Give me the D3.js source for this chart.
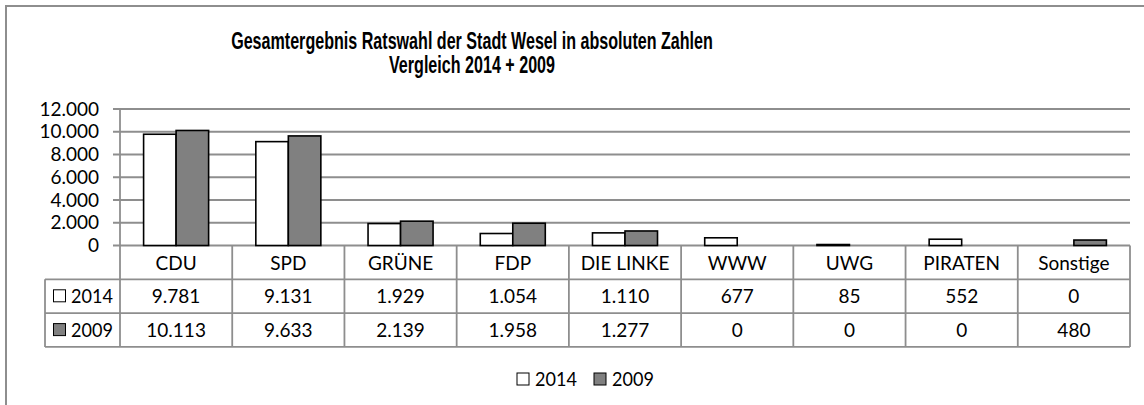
<!DOCTYPE html>
<html><head><meta charset="utf-8">
<script src="https://cdn.jsdelivr.net/npm/d3@7"></script>
<style>body{margin:0;background:#fff}svg{display:block}</style>
</head><body>
<svg id="c" width="1144" height="405"></svg>
<script>
const categories = ["CDU","SPD","GRÜNE","FDP","DIE LINKE","WWW","UWG","PIRATEN","Sonstige"];
const seriesNames = ["2014","2009"];
const values2014 = [9781,9131,1929,1054,1110,677,85,552,0];
const values2009 = [10113,9633,2139,1958,1277,0,0,0,480];
const yTicks = [0,2000,4000,6000,8000,10000,12000];
const titleLines = ["Gesamtergebnis Ratswahl der Stadt Wesel in absoluten Zahlen","Vergleich 2014 + 2009"];

const seriesValues = [values2014, values2009];
const fills = ["#ffffff","#808080"];
const fmt = d3.formatLocale({decimal:",",thousands:".",grouping:[3],currency:["","€"]}).format(",d");

const svg = d3.select("#c");
const gridCol = "#8e8e8e";
const plotL = 120, plotR = 1130, plotT = 109, plotB = 245.5;
const tableL = 45, rowH = 33.8;

// frame
svg.append("rect").attr("x",6).attr("y",6).attr("width",1160).attr("height",420)
  .attr("fill","#fff").attr("stroke",gridCol).attr("stroke-width",2);

const x0 = d3.scaleBand().domain(categories).range([plotL, plotR]);
const x1 = d3.scaleBand().domain(seriesNames).range([0, x0.bandwidth()]).paddingOuter(0.726);
const y = d3.scaleLinear().domain([0,12000]).range([plotB, plotT]);

function txt(g, x, yy, s, o) {
  o = o || {};
  return g.append("text")
    .attr("transform", `translate(${x},${yy}) scale(${o.sx||1.0},1)`)
    .attr("text-anchor", o.anchor || "middle")
    .attr("font-family", o.family || "Lato, 'Open Sans', sans-serif")
    .attr("font-size", o.size || 19)
    .attr("font-weight", o.weight || "normal")
    .attr("fill", "#000")
    .text(s);
}

// title
titleLines.forEach((t,i) => txt(svg, 472, 49 + i*23.5, t, {family:"'Liberation Sans', Arial, sans-serif", weight:"bold", size:23, sx:0.70}));

// gridlines + y labels
const gy = svg.append("g");
yTicks.forEach(v => {
  gy.append("line").attr("x1", plotL-7).attr("x2", plotR).attr("y1", y(v)).attr("y2", y(v))
    .attr("stroke", gridCol).attr("stroke-width", 1.8);
  txt(gy, 99, y(v)+6.5, fmt(v), {anchor:"end"});
});

// axis line + table verticals
const tableB = plotB + rowH*3;
svg.append("line").attr("x1",plotL).attr("x2",plotL).attr("y1",plotT).attr("y2",tableB).attr("stroke",gridCol).attr("stroke-width",1.8);
categories.forEach((c,i) => {
  const xr = x0(c) + x0.bandwidth();
  svg.append("line").attr("x1",xr).attr("x2",xr).attr("y1",plotB).attr("y2",tableB).attr("stroke",gridCol).attr("stroke-width",1.8);
});
// table horizontals
[1,2,3].forEach(k => {
  svg.append("line").attr("x1",tableL).attr("x2",plotR).attr("y1",plotB+rowH*k).attr("y2",plotB+rowH*k).attr("stroke",gridCol).attr("stroke-width",1.8);
});
svg.append("line").attr("x1",tableL).attr("x2",tableL).attr("y1",plotB+rowH).attr("y2",tableB).attr("stroke",gridCol).attr("stroke-width",1.8);

// bars
const gb = svg.append("g");
seriesNames.forEach((s,si) => {
  gb.selectAll(null).data(categories.map((c,i)=>({c, v: seriesValues[si][i]})).filter(d=>d.v>0))
    .enter().append("rect")
    .attr("x", d => x0(d.c) + x1(s))
    .attr("y", d => y(d.v))
    .attr("width", x1.bandwidth())
    .attr("height", d => y(0) - y(d.v))
    .attr("fill", fills[si]).attr("stroke", "#000").attr("stroke-width", 1.6);
});

// table text
categories.forEach((c,i) => {
  const cx = x0(c) + x0.bandwidth()/2;
  txt(svg, cx, plotB + 24, c);
  seriesNames.forEach((s,si) => txt(svg, cx, plotB + rowH*(si+1) + 24, fmt(seriesValues[si][i])));
});
seriesNames.forEach((s,si) => {
  const yy = plotB + rowH*(si+1);
  svg.append("rect").attr("x",53.5).attr("y",yy+10.5).attr("width",12).attr("height",12)
    .attr("fill",fills[si]).attr("stroke","#000").attr("stroke-width",1);
  txt(svg, 71, yy+24, s, {anchor:"start", sx:0.95});
});

// legend
const lx = [517, 594];
seriesNames.forEach((s,si) => {
  svg.append("rect").attr("x",lx[si]).attr("y",373).attr("width",12).attr("height",12)
    .attr("fill",fills[si]).attr("stroke","#000").attr("stroke-width",1);
  txt(svg, lx[si]+18, 385.5, s, {anchor:"start", sx:0.95});
});
</script>
</body></html>
